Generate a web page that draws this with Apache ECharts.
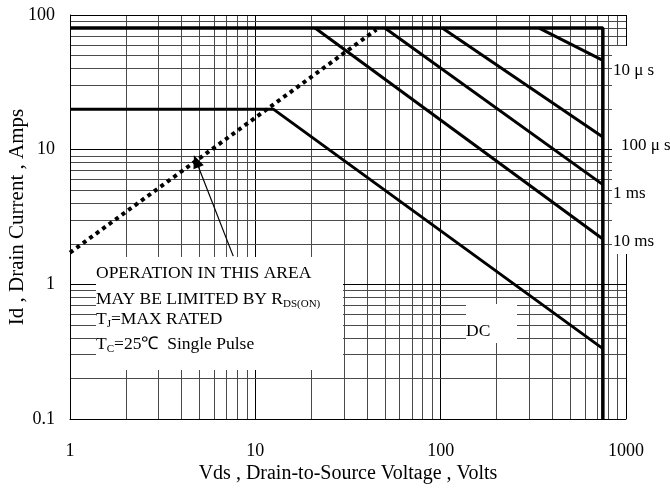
<!DOCTYPE html>
<html>
<head>
<meta charset="utf-8">
<script src="https://cdn.jsdelivr.net/npm/echarts@6/dist/echarts.min.js"></script>
<style>
  html, body { margin: 0; padding: 0; background: #fff; }
  #chart { width: 670px; height: 492px; }
</style>
</head>
<body>
<div id="chart"></div>
<script>
// Safe operating area: drain current vs drain-source voltage (log-log)
const FONT = '"Liberation Serif", "Times New Roman", serif';

// Axis tick labels
const xTickLabels = ['1', '10', '100', '1000'];
const yTickLabels = ['0.1', '1', '10', '100'];

// Grid line positions (1-2-3...9 per decade)
const gridVolts = [1,2,3,4,5,6,7,8,9,10,20,30,40,50,60,70,80,90,100,200,300,400,500,600,700,800,900,1000];
const gridAmps = [0.1,0.2,0.3,0.4,0.5,0.6,0.7,0.8,0.9,1,2,3,4,5,6,7,8,9,10,20,30,40,50,60,70,80,90,100];
const majorVolts = [1, 10, 100, 1000];
const majorAmps = [0.1, 1, 10, 100];

// Boundary curves (volts, amps)
const limitV = [1, 750, 750];
const limitI = [80, 80, 0.1];
const dcV = [1, 12.5, 750];
const dcI = [20, 20, 0.333];
const ms10V = [21, 750];
const ms10I = [80, 2.17];
const ms1V = [50, 750];
const ms1I = [80, 5.5];
const us100V = [102, 750];
const us100I = [80, 12.4];
const us10V = [340, 750];
const us10I = [80, 46];
// R_DS(on) limit line
const rdsV = [1, 45];
const rdsI = [1.72, 78];
// Annotation arrow (from note box toward the R_DS(on) line)
const arrowFrom = [7.6, 1.62];
const arrowTo = [4.8, 8.2];

const zip = (xs, ys) => xs.map((x, i) => [x, ys[i]]);

const chart = echarts.init(document.getElementById('chart'), null, { renderer: 'canvas' });

const curve = (name, xs, ys, width) => ({
  name, type: 'line', data: zip(xs, ys), symbol: 'none', z: 3,
  lineStyle: { color: '#000', width: width || 3 }, silent: true, animation: false
});

const gridLines = [];
gridVolts.forEach(v => gridLines.push({ xAxis: v, lineStyle: { color: majorVolts.includes(v) ? '#000' : '#4a4a4a', width: 1, type: 'solid' } }));
gridAmps.forEach(a => gridLines.push({ yAxis: a, lineStyle: { color: majorAmps.includes(a) ? '#000' : '#4a4a4a', width: 1, type: 'solid' } }));

const subRich = {
  a: { font: '17.5px ' + FONT, lineHeight: 20, verticalAlign: 'bottom' },
  s: { font: '11px ' + FONT, lineHeight: 20, verticalAlign: 'bottom', padding: [0, 0, -2, 0] }
};

const option = {
  animation: false,
  backgroundColor: '#fff',
  grid: { left: 70, right: 44, top: 15, bottom: 73, outerBoundsMode: 'none', containLabel: false },
  xAxis: {
    type: 'log', logBase: 10, min: 1, max: 1000,
    name: 'Vds , Drain-to-Source Voltage , Volts',
    nameLocation: 'middle', nameGap: 45, nameMoveOverlap: false,
    nameTextStyle: { fontFamily: FONT, fontSize: 20, color: '#000' },
    axisLine: { show: true, lineStyle: { color: '#000', width: 1 } },
    axisTick: { show: false },
    splitLine: { show: false },
    axisLabel: {
      fontFamily: FONT, fontSize: 18, color: '#000', margin: 23,
      formatter: v => { const i = Math.round(Math.log10(v)); return xTickLabels[i] || ''; }
    }
  },
  yAxis: {
    type: 'log', logBase: 10, min: 0.1, max: 100,
    name: 'Id , Drain Current , Amps',
    nameLocation: 'middle', nameGap: 42, nameRotate: 90, nameMoveOverlap: false,
    nameTextStyle: { fontFamily: FONT, fontSize: 21, color: '#000' },
    axisLine: { show: true, lineStyle: { color: '#000', width: 1 } },
    axisTick: { show: false },
    splitLine: { show: false },
    axisLabel: {
      fontFamily: FONT, fontSize: 18, color: '#000', margin: 15,
      formatter: v => { const i = Math.round(Math.log10(v)) + 1; return yTickLabels[i] || ''; }
    }
  },
  series: [
    {
      name: 'grid', type: 'line', data: [], z: 0, silent: true,
      markLine: { z: 0, symbol: 'none', silent: true, label: { show: false }, data: gridLines, animation: false }
    },
    curve('limit', limitV, limitI, 3.5),
    curve('DC', dcV, dcI, 3),
    curve('10 ms', ms10V, ms10I, 3),
    curve('1 ms', ms1V, ms1I, 3),
    curve('100 us', us100V, us100I, 3),
    curve('10 us', us10V, us10I, 3),
    {
      name: 'RDS(on)', type: 'line', data: zip(rdsV, rdsI), symbol: 'none', z: 3, silent: true,
      lineStyle: { color: '#000', width: 4, type: [4, 4] }
    },
    {
      name: 'arrow', type: 'line', data: [], z: 4, silent: true,
      markLine: {
        z: 4, silent: true, symbol: ['none', 'triangle'], symbolSize: [11, 13],
        label: { show: false },
        lineStyle: { color: '#000', width: 1.2, type: 'solid' },
        data: [[{ coord: arrowFrom }, { coord: arrowTo }]],
        animation: false
      }
    }
  ],
  graphic: [
    // note box
    { type: 'rect', shape: { x: 96, y: 257, width: 247, height: 113 }, style: { fill: '#fff' }, z: 2 },
    { type: 'text', left: 96, top: 264, z: 5, style: { text: 'OPERATION IN THIS AREA', font: '17.5px ' + FONT, fill: '#000' } },
    { type: 'text', left: 96, top: 290, z: 5, style: { text: '{a|MAY BE LIMITED BY R}{s|DS(ON)}', fill: '#000', rich: subRich } },
    { type: 'text', left: 96, top: 310, z: 5, style: { text: '{a|T}{s|J}{a|=MAX RATED}', fill: '#000', rich: subRich } },
    { type: 'text', left: 96, top: 335, z: 5, style: { text: '{a|T}{s|C}{a|=25℃  Single Pulse}', fill: '#000', rich: subRich } },
    // DC label
    { type: 'rect', shape: { x: 466, y: 304, width: 51, height: 39 }, style: { fill: '#fff' }, z: 2 },
    { type: 'text', left: 466, top: 322, z: 5, style: { text: 'DC', font: '17.5px ' + FONT, fill: '#000' } },
    // pulse-width labels at the right edge
    { type: 'rect', shape: { x: 612, y: 46, width: 58, height: 208 }, style: { fill: '#fff' }, z: 2 },
    { type: 'text', left: 613, top: 62, z: 5, style: { text: '10 μ s', font: '17px ' + FONT, fill: '#000' } },
    { type: 'text', left: 621, top: 137, z: 5, style: { text: '100 μ s', font: '17px ' + FONT, fill: '#000' } },
    { type: 'text', left: 613, top: 185, z: 5, style: { text: '1 ms', font: '17px ' + FONT, fill: '#000' } },
    { type: 'text', left: 613, top: 233, z: 5, style: { text: '10 ms', font: '17px ' + FONT, fill: '#000' } }
  ]
};

chart.setOption(option);
</script>
</body>
</html>
